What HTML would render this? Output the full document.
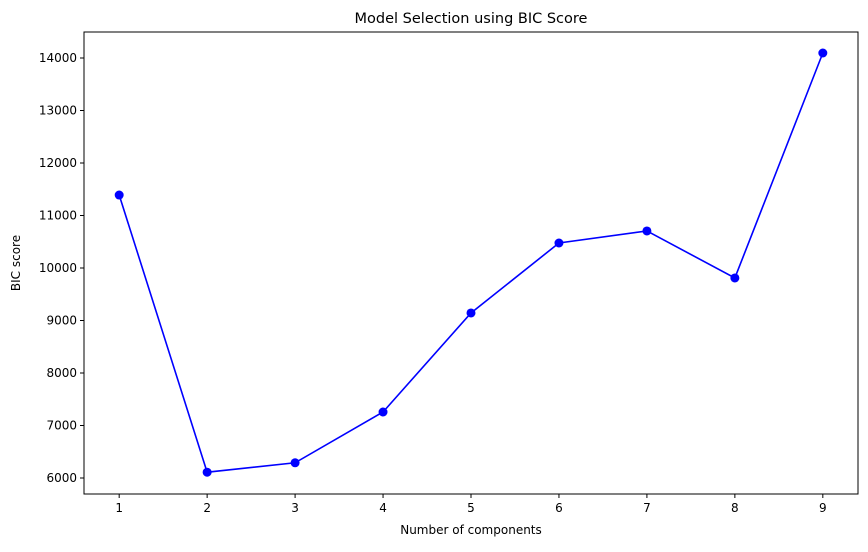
<!DOCTYPE html>
<html><head><meta charset="utf-8"><style>
body{margin:0;background:#fff;font-family:"Liberation Sans","DejaVu Sans",sans-serif;}
svg text{font-family:"DejaVu Sans","Liberation Sans",sans-serif;}
</style></head><body>
<svg id="chart" width="868" height="547" xmlns="http://www.w3.org/2000/svg"></svg>
<script>
const categories=[1,2,3,4,5,6,7,8,9];
const bicValues=[11390,6110,6290,7257,9143,10476,10705,9810,14095];
const yTicks=[6000,7000,8000,9000,10000,11000,12000,13000,14000];
const L=84,R=858,T=32,B=494;
const xMin=0.6,xMax=9.4,yMin=5695,yMax=14495;
const X=v=>L+(v-xMin)/(xMax-xMin)*(R-L);
const Y=v=>B-(v-yMin)/(yMax-yMin)*(B-T);
const svg=document.getElementById('chart');
const NS='http://www.w3.org/2000/svg';
function mk(tag,attrs,parent){const e=document.createElementNS(NS,tag);for(const k in attrs)e.setAttribute(k,attrs[k]);(parent||svg).appendChild(e);return e;}
const frame=mk('rect',{x:L,y:T,width:R-L,height:B-T,fill:'none',stroke:'#000','stroke-width':1});


categories.forEach(c=>{
  const x=X(c);
  const t=mk('line',{x1:x,x2:x,y1:B,y2:B+4,stroke:'#000'});
  
  
  const lb=mk('text',{x:x,y:B+18,'text-anchor':'middle','font-size':12});
  lb.textContent=c;
  
  
});
yTicks.forEach(v=>{
  const y=Y(v);
  const t=mk('line',{x1:L-4,x2:L,y1:y,y2:y,stroke:'#000'});
  
  
  const lb=mk('text',{x:L-7,y:y+4,'text-anchor':'end','font-size':12});
  lb.textContent=v;
  
  
});
const pts=categories.map((c,i)=>X(c)+','+Y(bicValues[i])).join(' ');
const line=mk('polyline',{points:pts,fill:'none',stroke:'#0000ff','stroke-width':1.6});


categories.forEach((c,i)=>{
  const p=mk('circle',{cx:X(c),cy:Y(bicValues[i]),r:4.5,fill:'#0000ff'});
  
  
});
const title=mk('text',{x:(L+R)/2,y:23,'text-anchor':'middle','font-size':14.5});
title.textContent='Model Selection using BIC Score';


const xt=mk('text',{x:(L+R)/2,y:534,'text-anchor':'middle','font-size':12});
xt.textContent='Number of components';


const yt=mk('text',{x:20,y:(T+B)/2,'text-anchor':'middle','font-size':12,transform:'rotate(-90 20 '+((T+B)/2)+')'});
yt.textContent='BIC score';


</script>
</body></html>
